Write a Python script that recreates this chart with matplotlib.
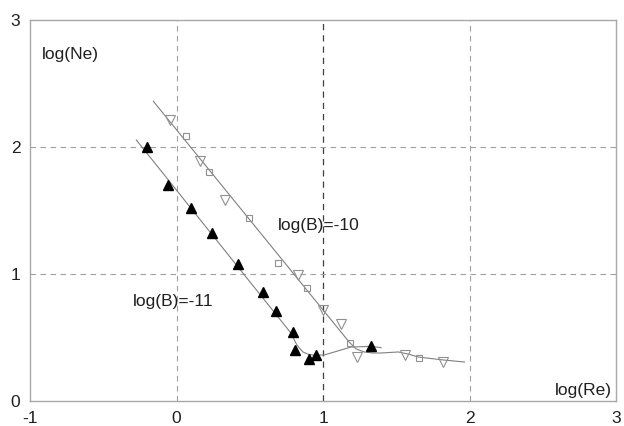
import matplotlib
matplotlib.use("Agg")
import matplotlib.pyplot as plt

plt.rcParams['font.family'] = ['Liberation Sans', 'DejaVu Sans']
plt.rcParams['axes.unicode_minus'] = False

# curve log(B)=-10 (line)
curve10_x = [-0.158, 1.178, 1.226, 1.281, 1.34, 1.397, 1.514, 1.58, 1.651, 1.822, 1.966]
curve10_y = [2.36, 0.465, 0.41, 0.386, 0.378, 0.378, 0.386, 0.37, 0.346, 0.323, 0.307]

# curve log(B)=-11
curve11_x = [-0.274, 0.781, 0.822, 0.863, 0.90, 0.932, 1.007, 1.192, 1.33, 1.397]
curve11_y = [2.055, 0.535, 0.44, 0.386, 0.368, 0.362, 0.362, 0.425, 0.43, 0.42]

# open squares
sq_x = [0.062, 0.219, 0.493, 0.692, 0.890, 1.185, 1.658]
sq_y = [2.09, 1.80, 1.44, 1.09, 0.89, 0.46, 0.34]

# open triangles (down)
tri_x = [-0.041, 0.158, 0.329, 0.829, 1.0, 1.12, 1.23, 1.56, 1.82]
tri_y = [2.21, 1.89, 1.58, 0.99, 0.72, 0.61, 0.35, 0.36, 0.31]

# filled triangles (up)
blk_x = [-0.199, -0.055, 0.096, 0.240, 0.418, 0.589, 0.678, 0.795, 0.808, 0.904, 0.952, 1.329]
blk_y = [2.00, 1.70, 1.52, 1.32, 1.08, 0.86, 0.71, 0.54, 0.40, 0.33, 0.36, 0.43]

fig = plt.figure(figsize=(6.24, 4.26), dpi=100)
ax = fig.add_axes([30/624, 25/426, 586/624, 381/426])

ax.set_xlim(-1, 3)
ax.set_ylim(0, 3)

# grid
for gx in [0, 2]:
    ax.axvline(gx, color='#a0a0a0', lw=0.8, ls=(0, (5, 4)), zorder=0)
ax.axvline(1, color='#404040', lw=0.9, ls=(0, (5, 4)), zorder=0)
for gy in [1, 2]:
    ax.axhline(gy, color='#a0a0a0', lw=0.8, ls=(0, (5, 4)), zorder=0)

ax.plot(curve10_x, curve10_y, color='#808080', lw=0.8, zorder=1)
ax.plot(curve11_x, curve11_y, color='#808080', lw=0.8, zorder=1)

ax.plot(sq_x, sq_y, ls='none', marker='s', ms=5, mfc='none', mec='#909090', mew=0.8, zorder=2)
ax.plot(tri_x, tri_y, ls='none', marker='v', ms=7, mfc='none', mec='#909090', mew=0.8, zorder=2)
ax.plot(blk_x, blk_y, ls='none', marker='^', ms=7, color='black', zorder=3)

ax.text(-0.918, 2.69, 'log(Ne)', fontsize=12.5, va='baseline', ha='left', color='#202020')
ax.text(2.973, 0.047, 'log(Re)', fontsize=12.5, va='baseline', ha='right', color='#202020')
ax.text(0.695, 1.346, 'log(B)=-10', fontsize=12.5, va='baseline', ha='left', color='#202020')
ax.text(-0.295, 0.748, 'log(B)=-11', fontsize=12.5, va='baseline', ha='left', color='#202020')

ax.set_xticks([-1, 0, 1, 2, 3])
ax.set_yticks([0, 1, 2, 3])
ax.tick_params(length=0, labelsize=12.5, colors='#202020')
ax.tick_params(axis='x', pad=7)
ax.tick_params(axis='y', pad=7)

for s in ax.spines.values():
    s.set_color('#a8a8a8')
    s.set_linewidth(1.0)

fig.savefig('out.png', dpi=100)
